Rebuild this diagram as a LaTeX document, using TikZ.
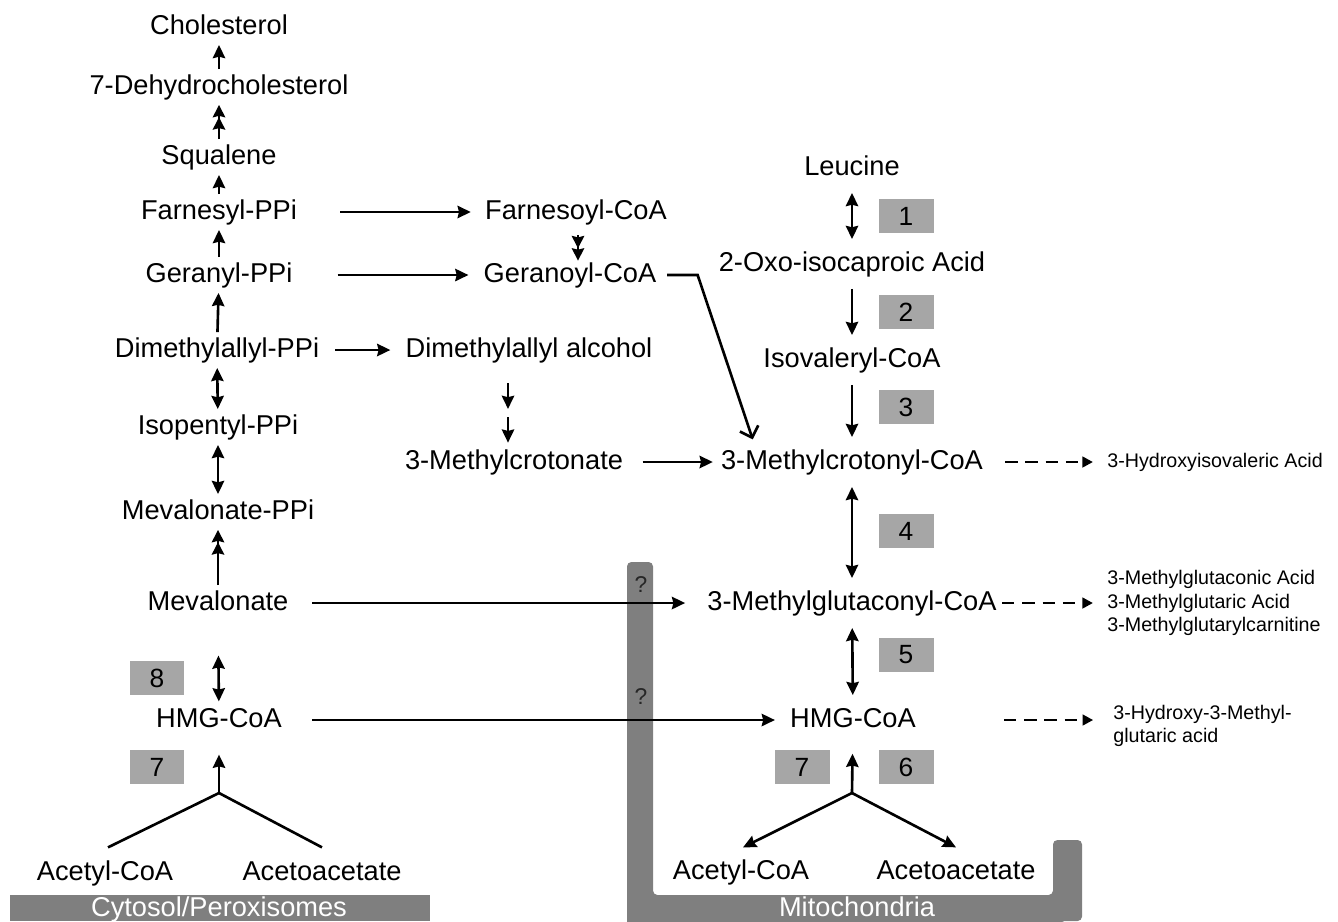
\documentclass[tikz,border=0pt]{standalone}
\usepackage{fontspec}
\setmainfont{Liberation Sans}
\usetikzlibrary{arrows.meta}
\definecolor{framegray}{RGB}{127, 127, 127}
\definecolor{enzgray}{RGB}{166, 166, 166}

\begin{document}
\begin{tikzpicture}[
    x=0.02cm, y=-0.02cm,
    metab/.style={font=\fontsize{15.5}{18}\selectfont, inner sep=0pt,
                  text height=11pt, text depth=3pt},
    enzyme/.style={rectangle, fill=enzgray, minimum width=1.1cm,
                   minimum height=0.68cm, inner sep=0pt,
                   font=\fontsize{15}{18}\selectfont},
    product/.style={font=\fontsize{11.2}{13.3}\selectfont, align=left,
                    anchor=west, inner sep=0pt},
    compartment/.style={font=\fontsize{15.5}{18}\selectfont, text=white,
                        inner sep=0pt, text height=11pt, text depth=3pt},
    qmark/.style={font=\fontsize{13}{15}\selectfont, text=black!85, inner sep=0pt},
    arrow/.style={-{Stealth[length=7.5pt, width=7pt, inset=0.8pt]}, line width=1.5pt},
    twoway/.style={{Stealth[length=7.5pt, width=7pt, inset=0.8pt]}-{Stealth[length=7.5pt, width=7pt, inset=0.8pt]},
                   line width=1.5pt},
    multi/.style={-{Stealth[length=7pt, width=7pt, inset=0.8pt]Stealth[length=7pt, width=7pt, inset=0.8pt]},
                  line width=1.5pt},
    openarrow/.style={-{Straight Barb[length=5.5pt, width=11pt]}, line width=1.5pt},
    dasharrow/.style={-{Triangle[length=6pt, width=6pt]}, line width=1.5pt,
                      dash pattern=on 7pt off 4.5pt},
    lgap/.style={shorten <=3pt, shorten >=3pt},
    rgap/.style={shorten <=7pt, shorten >=7pt}
]
\clip (0,0) rectangle (1338,921);

% Compartments
\fill[framegray] (10,895) rectangle (430,921);
\fill[framegray, rounded corners=2.5pt] (627,930) -- (627,562) -- (653,562) -- (653,895)
    -- (1053,895) -- (1053,840) -- (1082,840) -- (1082,921) -- (1060,921) -- (1060,930) -- cycle;
\node[compartment] (cyto) at (219,909) {Cytosol/Peroxisomes};
\node[compartment] (mito) at (857,909) {Mitochondria};
\node[qmark] (q1) at (641,585) {?};
\node[qmark] (q2) at (641,697) {?};

% Cytosol / peroxisomes
\node[metab] (chol) at (219,27) {Cholesterol};
\node[metab] (dhc) at (219,87) {7-Dehydrocholesterol};
\node[metab] (sq) at (219,157) {Squalene};
\node[metab] (fpp) at (219,212) {Farnesyl-PPi};
\node[metab] (gpp) at (219,275) {Geranyl-PPi};
\node[metab] (dmapp) at (217,350) {Dimethylallyl-PPi};
\node[metab] (ipp) at (218,427) {Isopentyl-PPi};
\node[metab] (mvpp) at (218,512) {Mevalonate-PPi};
\node[metab] (mev) at (218,603) {Mevalonate};
\node[metab] (hmgL) at (219,720) {HMG-CoA};
\node[metab] (acL) at (105,873) {Acetyl-CoA};
\node[metab] (acaL) at (322,873) {Acetoacetate};
\node[enzyme] (e8) at (157,678) {8};
\node[enzyme] (e7c) at (157,767) {7};

% Side branch
\node[metab] (fcoa) at (576,212) {Farnesoyl-CoA};
\node[metab] (gcoa) at (570,275) {Geranoyl-CoA};
\node[metab] (dmaol) at (529,350) {Dimethylallyl alcohol};
\node[metab] (mcr) at (514,462) {3-Methylcrotonate};
\coordinate (dmmid) at (508,413);

% Leucine pathway
\node[metab] (leu) at (852,168) {Leucine};
\node[metab] (oxo) at (852,264) {2-Oxo-isocaproic Acid};
\node[metab] (iso) at (852,360) {Isovaleryl-CoA};
\node[metab] (mccoa) at (852,462) {3-Methylcrotonyl-CoA};
\node[metab] (mgcoa) at (852,603) {3-Methylglutaconyl-CoA};
\node[metab] (hmgR) at (853,720) {HMG-CoA};
\node[metab] (acR) at (741,872) {Acetyl-CoA};
\node[metab] (acaR) at (956,872) {Acetoacetate};
\node[enzyme] (e1) at (906,216) {1};
\node[enzyme] (e2) at (906,312) {2};
\node[enzyme] (e3) at (906,407) {3};
\node[enzyme] (e4) at (906,531) {4};
\node[enzyme] (e5) at (906,655) {5};
\node[enzyme] (e7m) at (802,767) {7};
\node[enzyme] (e6) at (906,767) {6};

% Excreted metabolites
\node[product] (hiva) at (1107,462) {3-Hydroxyisovaleric Acid};
\node[product] (mgprod) at (1107,603) {3-Methylglutaconic Acid\\3-Methylglutaric Acid\\3-Methylglutarylcarnitine};
\node[product] (hmgprod) at (1113,726) {3-Hydroxy-3-Methyl-\\glutaric acid};

% Arrows, left column
\draw[arrow, lgap] (dhc) -- (chol);
\draw[multi, lgap] (sq) -- (dhc);
\draw[arrow, lgap] (fpp) -- (sq);
\draw[arrow, lgap] (gpp) -- (fpp);
\draw[arrow, lgap] (dmapp) -- (gpp);
\draw[twoway, lgap] (dmapp) -- (ipp);
\draw[twoway, lgap] (ipp) -- (mvpp);
\draw[multi, lgap] (mev) -- (mvpp);
\draw[twoway, shorten <=22.7pt, shorten >=3.4pt] (mev) -- (hmgL);
\coordinate (jL) at (219,793);
\draw[arrow, shorten >=12.5pt] (jL) -- (hmgL);
\draw[line width=1.5pt] (jL) -- ([xshift=0.06cm, yshift=0.26cm]acL.north);
\draw[line width=1.5pt] (jL) -- ([yshift=0.26cm]acaL.north);

% Arrows, side branch
\draw[arrow, shorten <=24.4pt, shorten >=8pt] (fpp) -- (fcoa);
\draw[arrow, shorten <=25.5pt, shorten >=8.5pt] (gpp) -- (gcoa);
\draw[arrow, shorten <=9pt, shorten >=8.5pt] (dmapp) -- (dmaol);
\draw[multi, shorten <=6pt, shorten >=1pt] ([xshift=0.04cm]fcoa.south) -- ([xshift=0.04cm]fcoa.south |- gcoa.north);
\draw[arrow, shorten <=11.7pt, shorten >=2.3pt] (dmaol.south -| dmmid) -- (dmmid);
\draw[arrow, shorten <=2.3pt, shorten >=3.8pt] (dmmid) -- (mcr.north -| dmmid);
\draw[arrow, shorten <=11pt, shorten >=4.5pt] (mcr) -- (mccoa);
\draw[openarrow, shorten <=6pt] (gcoa.east) -- ++(41,0) -- ([xshift=0.64cm, yshift=0.2cm]mccoa.north west);
\draw[arrow, shorten <=13.5pt, shorten >=12.5pt] (mev) -- (mgcoa);
\draw[arrow, shorten <=17pt, shorten >=8.5pt] (hmgL) -- (hmgR);

% Arrows, leucine pathway
\draw[twoway, rgap] (leu) -- (oxo);
\draw[arrow, rgap] (oxo) -- (iso);
\draw[arrow, rgap] (iso) -- (mccoa);
\draw[twoway, rgap] (mccoa) -- (mgcoa);
\draw[twoway, rgap] (mgcoa) -- (hmgR);
\coordinate (jR) at (852,793);
\draw[arrow, shorten >=12pt] (jR) -- (hmgR);
\draw[arrow] (jR) -- ([xshift=0.04cm, yshift=0.24cm]acR.north);
\draw[arrow] (jR) -- ([yshift=0.24cm]acaR.north);

% Dashed arrows
\draw[dasharrow, shorten <=12.5pt, shorten >=8pt] (mccoa) -- (hiva);
\draw[dasharrow, shorten <=3pt, shorten >=8pt] (mgcoa) -- (mgprod);
\draw[dasharrow, shorten <=50pt, shorten >=11.3pt] (hmgR) -- (hmgR -| hmgprod.west);

\end{tikzpicture}
\end{document}
